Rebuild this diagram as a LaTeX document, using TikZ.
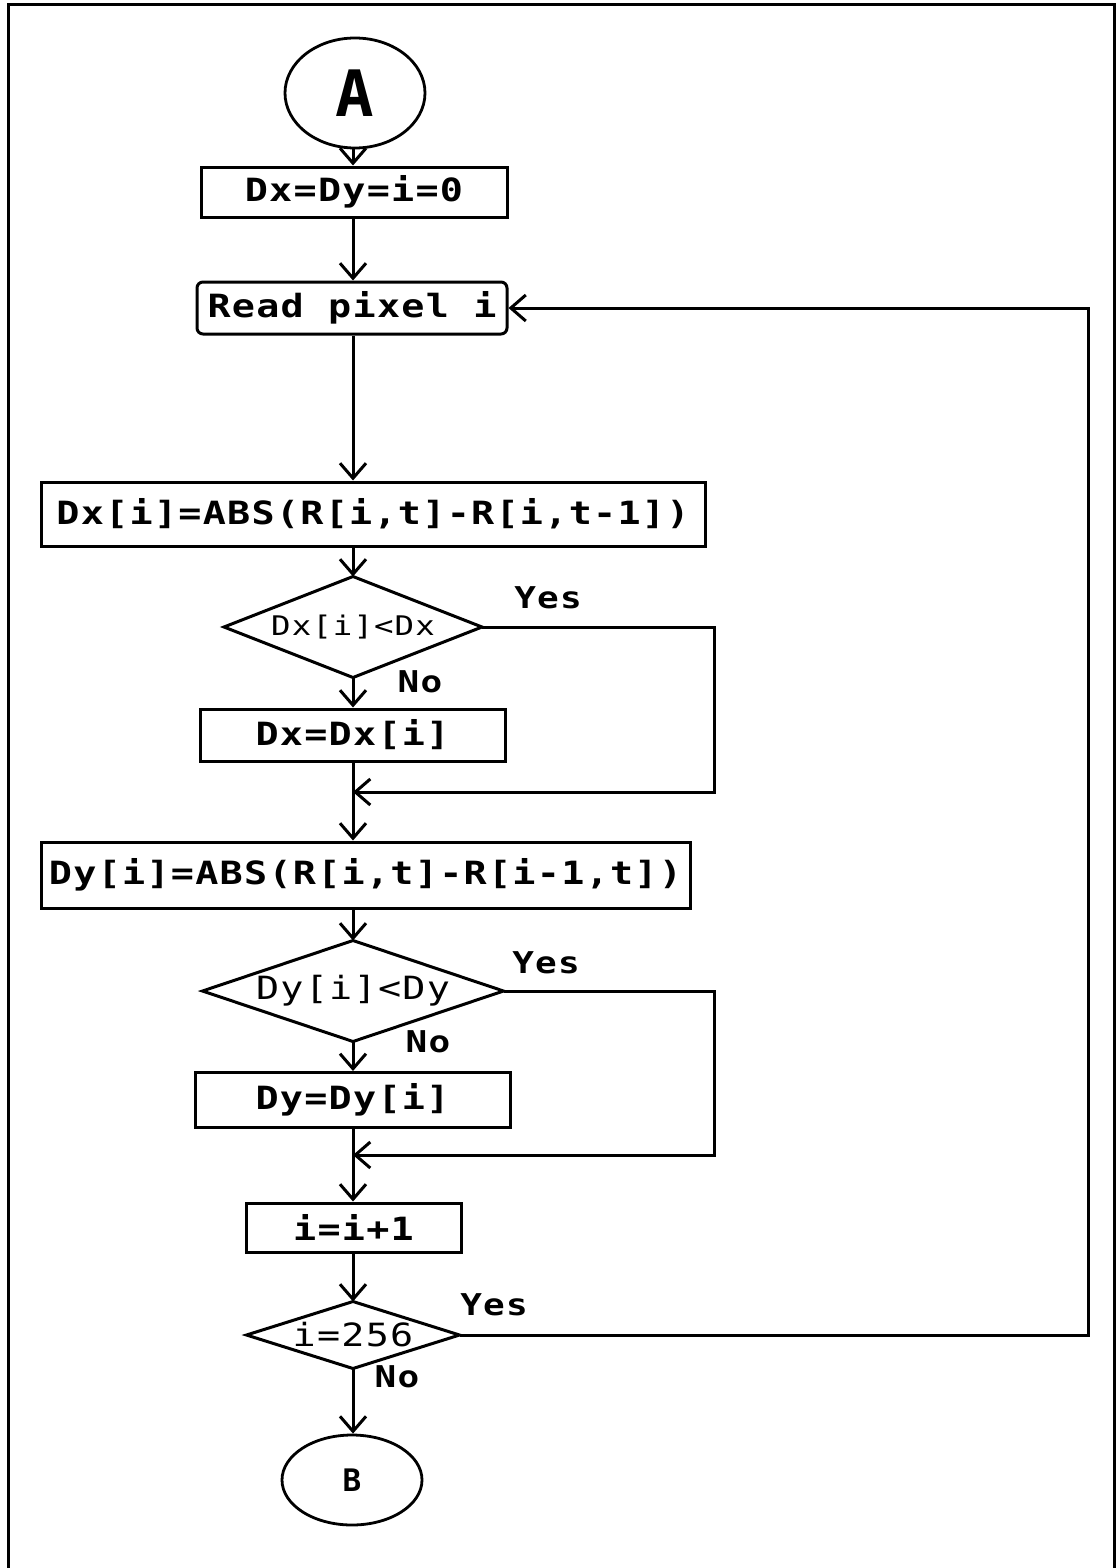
\documentclass[tikz,border=0pt]{standalone}
\usepackage{fontspec}
\usetikzlibrary{shapes.geometric,arrows.meta}
\newfontfamily\flowmono[FakeStretch=1.2,LetterSpace=4]{DejaVu Sans Mono}
\newfontfamily\flowplain{DejaVu Sans Mono}
\begin{document}
\begin{tikzpicture}[x=1pt,y=-1pt,line width=3pt,
  arr/.style={-{Straight Barb[length=15pt,width=26pt,line width=3pt]}},
  box/.style={draw,rectangle,inner sep=0pt,line width=3pt,
    font=\flowmono\bfseries\fontsize{32}{32}\selectfont},
  cond/.style={rectangle,inner sep=0pt,
    font=\flowmono\fontsize{32}{32}\selectfont},
  term/.style={draw,ellipse,inner sep=0pt,line width=2.8pt},
  lbl/.style={inner sep=0pt,font=\flowmono\bfseries\fontsize{30}{30}\selectfont}]
\useasboundingbox (0,0) rectangle (1118,1568);
% page frame (open at the foot of the page)
\draw[line width=3pt] (8,1600) -- (8,5) -- (1114,5) -- (1114,1600);

% guide positions for the main flow line and the return rails
\coordinate (axis) at (353,0);
\coordinate (rail1) at (714,0);
\coordinate (rail3) at (1088,0);

% terminals
\node[term,minimum width=140pt,minimum height=110pt,
  font=\flowplain\bfseries\fontsize{64}{64}\selectfont] (A) at (355,93) {A};
\node[term,minimum width=140pt,minimum height=90pt,
  font=\flowplain\bfseries\fontsize{31}{31}\selectfont] (B) at (352,1480) {B};

% process boxes
\node[box,minimum width=306pt,minimum height=50pt] (init) at (354,192) {Dx=Dy=i=0};
\node[box,minimum width=310pt,minimum height=52pt,rounded corners=6pt] (read) at (352,308) {Read pixel i};
\node[box,minimum width=664pt,minimum height=64pt] (dxi) at (373,514) {Dx[i]=ABS(R[i,t]-R[i,t-1])};
\node[box,minimum width=305pt,minimum height=52pt] (dxset) at (352.5,735) {Dx=Dx[i]};
\node[box,minimum width=649pt,minimum height=66pt] (dyi) at (365.5,875) {Dy[i]=ABS(R[i,t]-R[i-1,t])};
\node[box,minimum width=315pt,minimum height=55pt] (dyset) at (352.5,1100) {Dy=Dy[i]};
\node[box,minimum width=215pt,minimum height=49pt] (inc) at (353.5,1227.5) {i=i+1};

% decisions: text nodes whose side midpoints are the diamond corners
\node[cond,minimum width=255pt,minimum height=98pt,
  font=\flowmono\fontsize{27}{27}\selectfont] (d1) at (353,627) {Dx[i]<Dx};
\node[cond,minimum width=298pt,minimum height=98pt] (d2) at (353,991) {Dy[i]<Dy};
\node[cond,minimum width=210pt,minimum height=64pt] (d3) at (353,1335) {i=256};
\foreach \d in {d1,d2,d3}
  \draw[line join=miter] (\d.north) -- (\d.east) -- (\d.south) -- (\d.west) -- cycle;

% branch labels
\node[lbl] (y1) at (548,598) {Yes};
\node[lbl] (n1) at (420,682) {No};
\node[lbl] (y2) at (546,963) {Yes};
\node[lbl] (n2) at (428,1042) {No};
\node[lbl] (y3) at (494,1305) {Yes};
\node[lbl] (n3) at (397,1377) {No};

% join points of the skip branches
\coordinate (j1) at (353,792);
\coordinate (j2) at (353,1155);

% main flow
\draw[arr] (A.south -| axis) -- (init.north -| axis);
\draw[arr] (init.south -| axis) -- (read.north -| axis);
\draw[arr] (read.south -| axis) -- (dxi.north -| axis);
\draw[arr] (dxi.south -| axis) -- (d1.north);
\draw[arr] (d1.south) -- (dxset.north -| axis);
\draw (dxset.south -| axis) -- (j1);
\draw[arr] (j1) -- (dyi.north -| axis);
\draw[arr] (dyi.south -| axis) -- (d2.north);
\draw[arr] (d2.south) -- (dyset.north -| axis);
\draw (dyset.south -| axis) -- (j2);
\draw[arr] (j2) -- (inc.north -| axis);
\draw[arr] (inc.south -| axis) -- (d3.north);
\draw[arr] (d3.south) -- (B.north -| axis);

% "Yes" branches
\draw[arr] (d1.east) -- (d1.east -| rail1) |- (j1);
\draw[arr] (d2.east) -- (d2.east -| rail1) |- (j2);
\draw[arr] (d3.east) -- (d3.east -| rail3) |- (read.east);
\end{tikzpicture}
\end{document}
